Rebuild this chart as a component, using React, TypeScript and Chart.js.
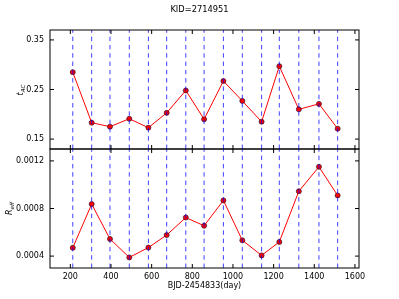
import React, { useEffect, useRef } from "react";
import { Chart, registerables } from "chart.js";

Chart.register(...registerables);

// ---- data ----
const days = [212, 305, 395, 490, 584, 674, 768, 858, 953, 1046, 1141, 1228, 1324, 1423, 1515];
const tAC = [0.285, 0.183, 0.175, 0.191, 0.173, 0.203, 0.248, 0.19, 0.267, 0.227, 0.185, 0.297, 0.21, 0.221, 0.171];
const rEff = [0.00047, 0.000837, 0.000544, 0.000389, 0.000472, 0.000577, 0.000724, 0.000655, 0.000868, 0.000533, 0.000406, 0.000519, 0.000945, 0.00115, 0.00091];
const xTicks = [200, 400, 600, 800, 1000, 1200, 1400, 1600];
const tTicks = [0.15, 0.25, 0.35];
const rTicks = [0.0004, 0.0008, 0.0012];
const xRange = [100, 1620];
const tRange = [0.13, 0.37];
const rRange = [0.0003, 0.0013];
const titleText = "KID=2714951";
const xLabel = "BJD-2454833(day)";

const FONT = "'DejaVu Sans', sans-serif";

type Lbl = { main: string; sub: string; cx: number; cy: number };

function framePlugin(yTicks: number[], label: Lbl, drawTitle: boolean) {
  return {
    id: "frame" + (drawTitle ? "1" : "2"),
    afterDraw(chart: any) {
      const ctx = chart.ctx as CanvasRenderingContext2D;
      const a = chart.chartArea;
      const xs = chart.scales.x;
      const ys = chart.scales.y;
      ctx.save();
      ctx.strokeStyle = "#000";
      ctx.lineWidth = 1;
      ctx.strokeRect(a.left, a.top, a.right - a.left, a.bottom - a.top);
      const tl = 4;
      ctx.beginPath();
      xTicks.forEach((v) => {
        const px = xs.getPixelForValue(v);
        ctx.moveTo(px, a.top);
        ctx.lineTo(px, a.top + tl);
        ctx.moveTo(px, a.bottom);
        ctx.lineTo(px, a.bottom - tl);
      });
      yTicks.forEach((v) => {
        const py = ys.getPixelForValue(v);
        ctx.moveTo(a.left, py);
        ctx.lineTo(a.left + tl, py);
        ctx.moveTo(a.right, py);
        ctx.lineTo(a.right - tl, py);
      });
      ctx.stroke();

      ctx.fillStyle = "#000";
      if (drawTitle) {
        ctx.font = `8.3px ${FONT}`;
        ctx.textAlign = "center";
        ctx.textBaseline = "middle";
        ctx.fillText(titleText, 199.5, 9.5);
      }
      // y label with subscript, rotated
      ctx.translate(label.cx, label.cy);
      ctx.rotate(-Math.PI / 2);
      ctx.textAlign = "left";
      ctx.textBaseline = "alphabetic";
      const mainFont = `italic 8px ${FONT}`;
      const subFont = `italic 5.6px ${FONT}`;
      ctx.font = mainFont;
      const wm = ctx.measureText(label.main).width;
      ctx.font = subFont;
      const ws = ctx.measureText(label.sub).width;
      const x0 = -(wm + ws) / 2;
      ctx.font = mainFont;
      ctx.fillText(label.main, x0, 2.5);
      ctx.font = subFont;
      ctx.fillText(label.sub, x0 + wm, 4.5);
      ctx.restore();
    },
  };
}

function dashSets(range: number[]) {
  return days.map((d) => ({
    data: [
      { x: d, y: range[0] },
      { x: d, y: range[1] },
    ],
    borderColor: "rgba(0,0,255,0.75)",
    borderWidth: 1,
    borderDash: [4.5, 3.8],
    pointRadius: 0,
    order: 0,
  }));
}

function seriesSet(vals: number[]) {
  return {
    data: days.map((d, i) => ({ x: d, y: vals[i] })),
    borderColor: "red",
    borderWidth: 1,
    pointRadius: 2.5,
    pointBackgroundColor: "red",
    pointBorderColor: "#301030",
    pointBorderWidth: 0.7,
    order: 1,
  };
}

const tickFont = { family: FONT, size: 8 };

const yFit = (s: any) => {
  s.width = 50;
  s.paddingTop = 0;
  s.paddingBottom = 0;
  s.paddingLeft = 0;
  s.paddingRight = 0;
};

export default function App() {
  const c1 = useRef<HTMLCanvasElement>(null);
  const c2 = useRef<HTMLCanvasElement>(null);

  useEffect(() => {
    const top = new Chart(c1.current!, {
      type: "line",
      data: { datasets: [...dashSets(tRange), seriesSet(tAC)] as any },
      options: {
        animation: false,
        responsive: false,
        devicePixelRatio: 1,
        layout: { autoPadding: false, padding: { top: 30, right: 40, left: 0, bottom: 1 } },
        plugins: { legend: { display: false }, tooltip: { enabled: false }, title: { display: false } },
        scales: {
          x: { type: "linear", min: xRange[0], max: xRange[1], display: false },
          y: {
            type: "linear",
            min: tRange[0],
            max: tRange[1],
            afterFit: yFit,
            afterBuildTicks: (s: any) => {
              s.ticks = tTicks.map((v) => ({ value: v }));
            },
            grid: { display: false, drawTicks: false },
            border: { display: false },
            ticks: { font: tickFont, color: "#000", padding: 6, callback: (v: any) => Number(v).toFixed(2) },
          },
        },
      },
      plugins: [framePlugin(tTicks, { main: "t", sub: "AC", cx: 20.5, cy: 90 }, true)],
    } as any);

    const bottom = new Chart(c2.current!, {
      type: "line",
      data: { datasets: [...dashSets(rRange), seriesSet(rEff)] as any },
      options: {
        animation: false,
        responsive: false,
        devicePixelRatio: 1,
        layout: { autoPadding: false, padding: { top: 1, right: 40, left: 0, bottom: 0 } },
        plugins: { legend: { display: false }, tooltip: { enabled: false }, title: { display: false } },
        scales: {
          x: {
            type: "linear",
            min: xRange[0],
            max: xRange[1],
            afterFit: (s: any) => {
              s.height = 31;
              s.paddingLeft = 0;
              s.paddingRight = 0;
              s.paddingTop = 0;
              s.paddingBottom = 0;
            },
            afterBuildTicks: (s: any) => {
              s.ticks = xTicks.map((v) => ({ value: v }));
            },
            grid: { display: false, drawTicks: false },
            border: { display: false },
            ticks: { font: tickFont, color: "#000", padding: 4, maxRotation: 0, autoSkip: false, callback: (v: any) => String(v) },
            title: { display: true, text: xLabel, font: { family: FONT, size: 8 }, color: "#000", padding: { top: 0, bottom: 8 } },
          },
          y: {
            type: "linear",
            min: rRange[0],
            max: rRange[1],
            afterFit: yFit,
            afterBuildTicks: (s: any) => {
              s.ticks = rTicks.map((v) => ({ value: v }));
            },
            grid: { display: false, drawTicks: false },
            border: { display: false },
            ticks: { font: tickFont, color: "#000", padding: 6, callback: (v: any) => Number(v).toFixed(4) },
          },
        },
      },
      plugins: [framePlugin(rTicks, { main: "R", sub: "eff", cx: 9.5, cy: 60.5 }, false)],
    } as any);

    return () => {
      top.destroy();
      bottom.destroy();
    };
  }, []);

  return (
    <div style={{ position: "absolute", left: 0, top: 0, width: 399, height: 299, background: "#fff" }}>
      <canvas ref={c1} width={399} height={150} style={{ position: "absolute", left: 0, top: 0, width: 399, height: 150 }} />
      <canvas ref={c2} width={399} height={151} style={{ position: "absolute", left: 0, top: 148, width: 399, height: 151 }} />
    </div>
  );
}
